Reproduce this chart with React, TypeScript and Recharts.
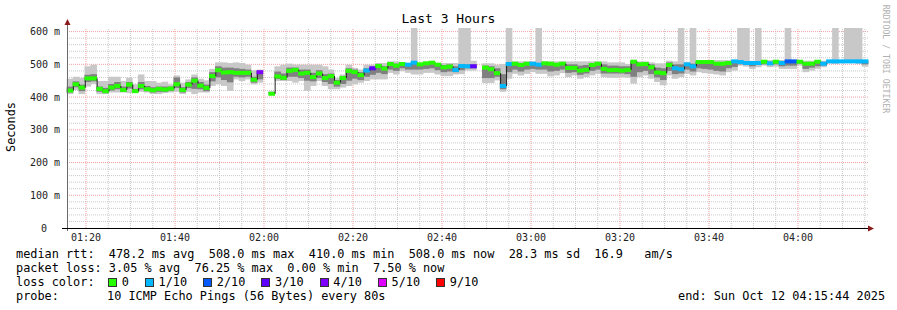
import React from 'react';
import { ComposedChart, Bar, XAxis, YAxis, ReferenceLine } from 'recharts';

// window: 01:15:44 .. 04:15:44, one step every 80 s
const START = 4544;
const END = 15344;
const STEP = 80;

const median = [
  420, 439, 429, 457, 457, 425, 418, 429, 434, 422,
  438, 418, 434, 424, 421, 425, 423, 426, 439, 422,
  438, 450, 435, 428, 464, 482, 475, 476, 474, 474,
  474, 453, 476, null, 410, 463, 459, 480, 483, 472,
  474, 461, 472, 458, 464, 444, 458, 480, 476, 467,
  481, 488, 495, 487, 501, 496, 501, 499, 505, 500,
  503, 505, 499, 491, 493, 483, 495, 494, 494, null,
  490, 485, 473, 434, 501, 502, 498, 502, 502, 499,
  503, 502, 499, 502, 489, 489, 481, 483, 498, 502,
  486, 482, 483, 481, 483, 508, 500, 501, 491, 475,
  473, 498, 488, 485, 500, 494, 507, 507, 507, 502,
  502, 504, 509, 507, 504, 504, 504, 508, 503, 508,
  504, 509, 509, 508, 502, 502, 508, 502, 509, 509,
  509, 509, 509, 509, 509,
];

// lost pings out of 10 per step
const loss = [
  0, 0, 0, 0, 0, 0, 0, 0, 0, 0,
  0, 0, 0, 0, 0, 0, 0, 0, 0, 0,
  0, 0, 0, 0, 0, 0, 0, 0, 0, 0,
  0, 0, 4, 0, 0, 0, 0, 0, 0, 0,
  0, 0, 0, 0, 0, 0, 0, 0, 0, 0,
  1, 3, 0, 0, 0, 0, 0, 1, 1, 0,
  0, 0, 0, 0, 0, 1, 1, 1, 3, 0,
  0, 0, 0, 1, 1, 0, 0, 0, 1, 1,
  0, 0, 0, 0, 0, 0, 0, 0, 0, 0,
  0, 0, 0, 0, 0, 0, 0, 0, 0, 0,
  0, 0, 1, 1, 1, 1, 0, 0, 0, 0,
  0, 0, 1, 1, 1, 1, 1, 0, 1, 0,
  1, 2, 2, 0, 0, 0, 0, 1, 1, 1,
  1, 1, 1, 1, 1,
];

const smokeLo = [
  409, 422, 409, 432, 440, 409, 409, 414, 414, 414,
  412, 414, 416, 414, 409, 409, 412, 414, 416, 409,
  416, 409, 414, 414, 434, 439, 434, 419, 454, 449,
  454, 439, 444, null, 408, 449, 449, 449, 444, 449,
  419, 434, 449, 434, 424, 424, 429, 434, 439, 444,
  449, 454, 454, 454, 474, 469, 479, 474, 469, 469,
  474, 474, 469, 464, 464, 469, 470, 481, 481, null,
  443, 443, 451, 416, 456, 471, 466, 471, 476, 471,
  471, 463, 466, 473, 461, 466, 456, 461, 466, 471,
  461, 459, 459, 461, 459, 441, 461, 466, 456, 446,
  436, 466, 456, 461, 471, 466, 476, 473, 471, 469,
  466, 476, 481, 496, 493, 486, 491, 496, 491, 493,
  486, 486, 486, 496, 476, 481, 486, 491, 503, 501,
  506, 506, 506, 501, 493,
];

const smokeHi = [
  456, 462, 459, 494, 499, 449, 449, 462, 462, 449,
  459, 439, 469, 449, 449, 444, 447, 439, 466, 444,
  454, 469, 456, 451, 486, 506, 506, 504, 506, 504,
  499, 482, 484, null, 418, 494, 499, 502, 499, 499,
  499, 499, 499, 494, 484, 459, 469, 499, 489, 484,
  499, 499, 504, 504, 509, 509, 504, 504, 612, 504,
  504, 504, 504, 504, 504, 504, 612, 612, 511, null,
  503, 503, 499, 501, 612, 509, 509, 509, 509, 612,
  509, 509, 509, 509, 509, 509, 509, 509, 509, 509,
  509, 506, 506, 506, 501, 513, 509, 509, 506, 503,
  503, 511, 509, 612, 506, 612, 513, 513, 513, 513,
  513, 513, 513, 612, 612, 511, 612, 513, 513, 513,
  513, 612, 513, 513, 511, 511, 511, 511, 513, 612,
  513, 612, 612, 612, 513,
];

const coreLo = [
  414, 430, 418, 446, 448, 416, 412, 420, 424, 416,
  426, 415, 424, 418, 414, 416, 416, 419, 428, 414,
  428, 425, 424, 418, 448, 460, 452, 445, 462, 460,
  462, 444, 454, null, 409, 455, 452, 462, 462, 458,
  450, 448, 458, 446, 440, 432, 440, 450, 456, 452,
  462, 468, 474, 470, 484, 480, 488, 484, 484, 484,
  486, 488, 482, 476, 478, 476, 482, 488, 488, null,
  458, 458, 462, 424, 476, 484, 478, 484, 486, 484,
  484, 478, 480, 484, 474, 476, 468, 472, 480, 484,
  472, 472, 472, 472, 470, 462, 476, 480, 470, 460,
  452, 480, 470, 472, 484, 478, 488, 486, 484, 480,
  478, 488, 492, 500, 498, 494, 498, 500, 498, 500,
  494, 496, 496, 502, 486, 490, 494, 496, 506, 505,
  507, 507, 507, 505, 500,
];

const coreHi = [
  432, 448, 438, 468, 470, 432, 428, 440, 446, 432,
  446, 425, 446, 434, 430, 432, 432, 432, 460, 430,
  446, 460, 446, 438, 476, 494, 490, 490, 488, 486,
  484, 462, 480, null, 414, 478, 472, 490, 490, 484,
  484, 474, 482, 470, 472, 452, 464, 488, 484, 476,
  488, 492, 500, 494, 505, 502, 503, 502, 507, 503,
  505, 506, 503, 498, 500, 494, 500, 500, 500, null,
  496, 494, 488, 470, 506, 506, 504, 506, 506, 504,
  506, 505, 504, 505, 500, 500, 496, 498, 504, 506,
  500, 496, 496, 494, 494, 510, 505, 505, 500, 490,
  488, 506, 500, 500, 504, 502, 509, 509, 509, 506,
  506, 508, 510, 510, 508, 508, 508, 510, 508, 510,
  508, 511, 511, 510, 506, 506, 510, 506, 511, 511,
  511, 511, 511, 511, 511,
];

const yTicks = [0, 100, 200, 300, 400, 500, 600];
const timeLabels = ['01:20', '01:40', '02:00', '02:20', '02:40', '03:00', '03:20', '03:40', '04:00'];

const lossLegend = [
  { label: '0', color: '#26ff00' },
  { label: '1/10', color: '#00b8ff' },
  { label: '2/10', color: '#0059ff' },
  { label: '3/10', color: '#5e00ff' },
  { label: '4/10', color: '#7e00ff' },
  { label: '5/10', color: '#dd00ff' },
  { label: '9/10', color: '#ff0000' },
];

const toSec = (s: string) => {
  const [h, m] = s.split(':').map(Number);
  return h * 3600 + m * 60;
};
const timeTicks = timeLabels.map(toSec);
const fmtTime = (v: number) => {
  const h = Math.floor(v / 3600);
  const m = Math.floor((v % 3600) / 60);
  return `${String(h).padStart(2, '0')}:${String(m).padStart(2, '0')}`;
};

const rows = median.map((m, i) => ({
  step: i,
  t: START + i * STEP,
  med: m,
  loss: loss[i],
  smoke: smokeLo[i] == null ? null : [smokeLo[i], smokeHi[i]],
  core: coreLo[i] == null ? null : [coreLo[i], coreHi[i]],
}));

// grid positions (minor 20 ms / 5 min, major 100 ms / 20 min)
const minorY: number[] = [];
for (let v = 20; v < 611; v += 20) if (v % 100 !== 0) minorY.push(v);
const minorX: number[] = [];
for (let v = 4800; v < END; v += 300) if (v % 1200 !== 0) minorX.push(v);

const MONO = '"DejaVu Sans Mono", monospace';
const MINOR = '#c9c9c9';
const MAJOR = '#f2a0a0';

const bandShape = (fill: string) => (props: any) => {
  const { x, y, width, height } = props;
  if (height == null || width == null || isNaN(height) || height === 0) return <g />;
  const top = height < 0 ? y + height : y;
  return <rect x={x - 0.3} y={top} width={width + 0.6} height={Math.abs(height)} fill={fill} />;
};

// coloured median block, plus the thin dark riser from the previous step
const MedianShape = (props: any) => {
  const { x, y, width, height, payload } = props;
  if (!payload || payload.med == null) return <g />;
  const prev = payload.step > 0 ? rows[payload.step - 1].med : null;
  const base = y + height;
  const prevY = prev == null ? null : base - (prev / payload.med) * height;
  return (
    <g>
      {prevY != null && (
        <line x1={x + 0.5} x2={x + 0.5} y1={prevY} y2={y} stroke="#202020" strokeWidth={1} />
      )}
      <rect x={x - 0.3} y={y - 2} width={width + 0.6} height={4} fill={lossLegend[payload.loss].color} />
    </g>
  );
};

const YTick = (props: any) => {
  const { x, y, payload } = props;
  const zero = payload.value === 0;
  return (
    <text x={zero ? x - 13 : x} y={y} dy="0.35em" textAnchor="end" fontSize={10} fontFamily={MONO} fill="#222">
      {zero ? '0' : `${payload.value} m`}
    </text>
  );
};

const row = (top: number): React.CSSProperties => ({
  position: 'absolute',
  top,
  left: 16,
  fontFamily: MONO,
  fontSize: 11.86,
  lineHeight: '14px',
  whiteSpace: 'pre',
  color: '#000',
});

export default function App() {
  return (
    <div style={{ position: 'absolute', left: 0, top: 0, width: 897, height: 310, background: '#fff' }}>
      <ComposedChart
        width={897}
        height={310}
        data={rows}
        margin={{ top: 28, right: 29, bottom: 62, left: 7 }}
        barCategoryGap={0}
        barGap={0}
      >
        <XAxis
          dataKey="t"
          type="number"
          domain={[START, END]}
          ticks={timeTicks}
          interval={0}
          allowDataOverflow
          tickFormatter={fmtTime}
          tick={{ fontSize: 10, fontFamily: MONO, fill: '#222' }}
          axisLine={false}
          tickLine={false}
          tickSize={6}
          tickMargin={0}
          height={20}
        />
        <XAxis xAxisId="c1" dataKey="step" type="category" hide />
        <XAxis xAxisId="c2" dataKey="step" type="category" hide />
        <XAxis xAxisId="c3" dataKey="step" type="category" hide />
        <YAxis
          type="number"
          domain={[0, 611]}
          ticks={yTicks}
          interval={0}
          allowDataOverflow
          width={60}
          axisLine={false}
          tickLine={false}
          tickSize={5}
          tickMargin={2}
          tick={<YTick />}
        />

        {minorY.map((v) => (
          <ReferenceLine key={`my${v}`} y={v} stroke={MINOR} strokeDasharray="1 1" zIndex={-100} />
        ))}
        {minorX.map((v) => (
          <ReferenceLine key={`mx${v}`} x={v} stroke={MINOR} strokeDasharray="1 1" zIndex={-100} />
        ))}
        {yTicks.slice(1).map((v) => (
          <ReferenceLine key={`My${v}`} y={v} stroke={MAJOR} strokeDasharray="1 1" zIndex={-100} />
        ))}
        {timeTicks.map((v) => (
          <ReferenceLine key={`Mx${v}`} x={v} stroke={MAJOR} strokeDasharray="1 1" zIndex={-100} />
        ))}

        <Bar xAxisId="c1" dataKey="smoke" isAnimationActive={false} shape={bandShape('#c8c8c8')} />
        <Bar xAxisId="c2" dataKey="core" isAnimationActive={false} shape={bandShape('#808080')} />
        <Bar xAxisId="c3" dataKey="med" isAnimationActive={false} shape={MedianShape} />
      </ComposedChart>

      <svg width={897} height={310} style={{ position: 'absolute', left: 0, top: 0, pointerEvents: 'none' }}>
        <line x1={67.5} y1={231} x2={67.5} y2={24} stroke="#6a6a6a" />
        <polygon points="64.5,25 70.5,25 67.5,19" fill="#8b1a1a" />
        <line x1={62} y1={228.5} x2={869} y2={228.5} stroke="#000" />
        <polygon points="868,225.5 868,231.5 874,228.5" fill="#8b1a1a" />
      </svg>

      <div style={{ position: 'absolute', left: 0, width: 897, top: 11, textAlign: 'center', fontFamily: MONO, fontSize: 13, lineHeight: '16px', color: '#000' }}>
        Last 3 Hours
      </div>
      <div
        style={{
          position: 'absolute',
          left: 11,
          top: 127,
          transform: 'translate(-50%, -50%) rotate(-90deg)',
          fontFamily: MONO,
          fontSize: 11.86,
          whiteSpace: 'nowrap',
          color: '#000',
        }}
      >
        Seconds
      </div>
      <div
        style={{
          position: 'absolute',
          left: 886,
          top: 59,
          transform: 'translate(-50%, -50%) rotate(90deg)',
          fontFamily: MONO,
          fontSize: 8.2,
          whiteSpace: 'nowrap',
          color: '#b0b0b0',
        }}
      >
        RRDTOOL / TOBI OETIKER
      </div>

      <div style={row(247)}>median rtt:  478.2 ms avg  508.0 ms max  410.0 ms min  508.0 ms now  28.3 ms sd  16.9   am/s</div>
      <div style={row(261)}>packet loss: 3.05 % avg  76.25 % max  0.00 % min  7.50 % now</div>
      <div style={row(275)}>loss color:</div>
      <div style={{ ...row(275), left: 108, display: 'flex', alignItems: 'center', height: 14 }}>
        {lossLegend.map((l) => (
          <span key={l.label} style={{ display: 'flex', alignItems: 'center', marginRight: 16 }}>
            <span style={{ width: 7, height: 7, background: l.color, border: '1px solid #333', display: 'inline-block' }} />
            <span style={{ marginLeft: 4.7 }}>{l.label}</span>
          </span>
        ))}
      </div>
      <div style={row(289)}>probe:</div>
      <div style={{ ...row(289), left: 107 }}>10 ICMP Echo Pings (56 Bytes) every 80s</div>
      <div style={{ ...row(289), left: 678 }}>end: Sun Oct 12 04:15:44 2025</div>
    </div>
  );
}
